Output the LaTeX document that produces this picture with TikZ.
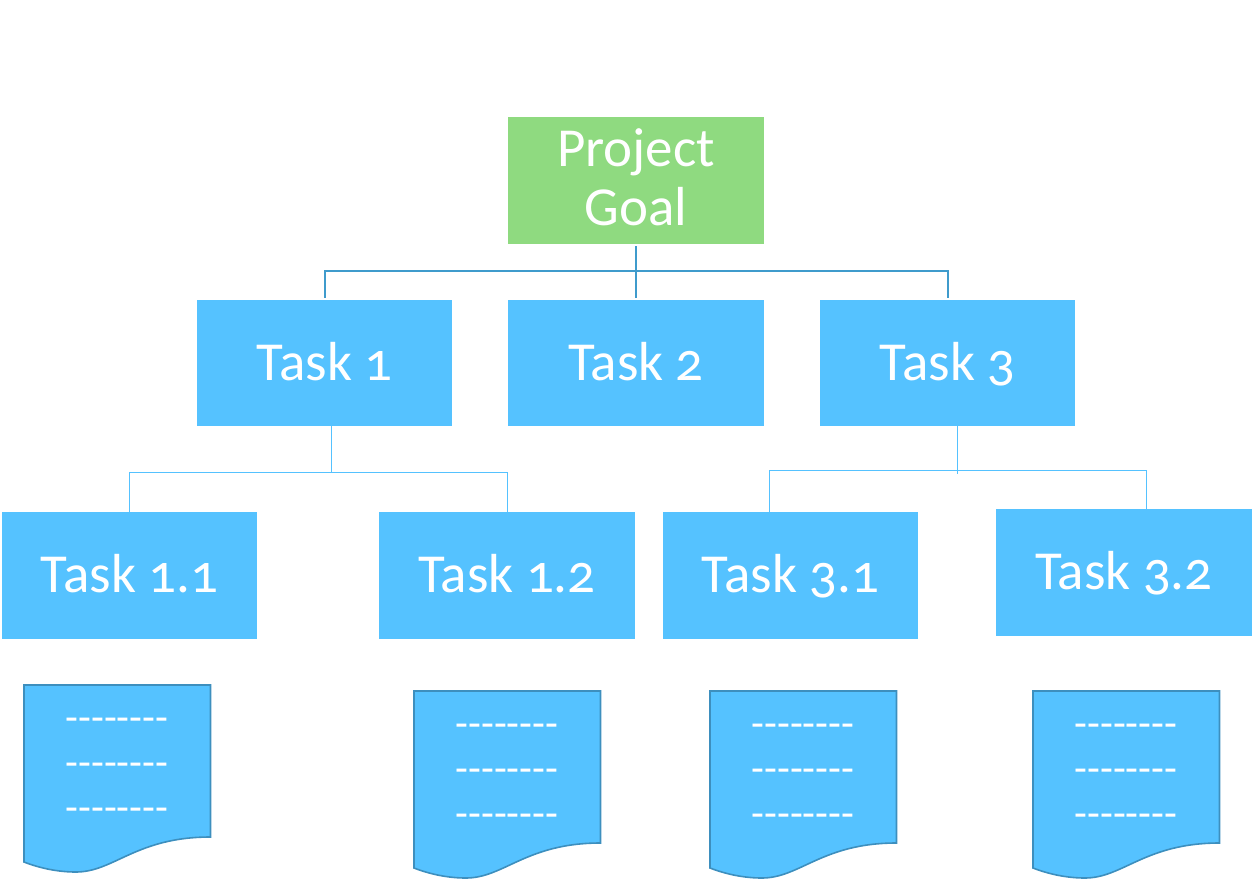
\documentclass[tikz,border=0pt]{standalone}
\usepackage{fontspec}
\setmainfont[Numbers=OldStyle]{Carlito}
\newfontfamily\dashfont{Carlito}
\usetikzlibrary{calc, positioning}

\definecolor{taskblue}{HTML}{55C2FF}
\definecolor{goalgreen}{HTML}{8FDA80}
\definecolor{linkblue}{HTML}{3F9BCC}
\definecolor{sheetedge}{HTML}{3D8FBE}

\tikzset{
    plainbox/.style={text=white, minimum width=255pt, minimum height=126pt,
                    inner sep=0pt, align=center, font=\fontsize{55}{59}\selectfont},
    % fixed height and depth keep the baselines level with and without old style digits
    taskbox/.style={plainbox, fill=taskblue, text height=40pt, text depth=6pt},
    subtaskbox/.style={taskbox, minimum height=127pt},
    goalbox/.style={plainbox, fill=goalgreen, minimum width=256pt, minimum height=127pt, text depth=6pt},
    toplink/.style={draw=linkblue, line width=2pt},
    sublink/.style={draw=taskblue, line width=1pt},
    sheet/.style={fill=taskblue, draw=sheetedge, line width=1.6pt},
    sheetnote/.style={text=white, align=center, inner sep=0pt, font=\dashfont\fontsize{42}{45}\selectfont}
}

% note sheet with a wavy lower edge: name, left, top
\newcommand{\notesheet}[3]{
    \begin{scope}[shift={(#2,#3)}]
        \draw [sheet] (0,0) -- (186.5,0) -- (186.5,152)
            .. controls (112,152) and (90,187) .. (52,187)
            .. controls (36,187) and (18,184) .. (0,177) -- cycle;
        \node [sheetnote] (#1) at (93,85) {--------\\--------\\--------};
    \end{scope}
}

\begin{document}
\begin{tikzpicture}[x=1pt, y=-1pt]

    \useasboundingbox (0,0) rectangle (1254,879);

    % boxes, top to bottom
    \node [goalbox] (goal)   at (636,180.5) {Project\\Goal};
    \node [taskbox] (task1)  at (324.5,363) {Task 1};
    \node [taskbox, minimum width=256pt] (task2)  at (636,363) {Task 2};
    \node [taskbox] (task3)  at (947.5,363) {Task 3};
    \node [subtaskbox] (task11) at (129.5,575.5) {Task 1.1};
    \node [subtaskbox, minimum width=256pt] (task12) at (507,575.5) {Task 1.2};
    \node [subtaskbox] (task31) at (790.5,575.5) {Task 3.1};
    \node [subtaskbox, minimum width=256pt] (task32) at (1124,572.5) {Task 3.2};

    % sheets below the lowest row
    \notesheet{note11}{24}{685}
    \notesheet{note12}{414}{691}
    \notesheet{note31}{710}{691}
    \notesheet{note32}{1033}{691}

    % bends where the links meet
    \coordinate (busgoal)  at (636,271);
    \coordinate (busone)   at (331,472.5);
    \coordinate (busthree) at (957.5,470.5);
    \coordinate (drop31)   at (769.5,470.5);
    \coordinate (drop32)   at (1146.5,470.5);

    \draw [toplink, shorten <=2pt, shorten >=2pt] (goal.south) -- (busgoal) -| (task1.north);
    \draw [toplink, shorten >=2pt] (busgoal) -| (task3.north);
    \draw [toplink, line width=1.2pt, shorten >=2pt] (busgoal) -- (task2.north);

    \draw [sublink] (busone |- task1.south) -- (busone);
    \draw [sublink] (busone) -| (task11.north);
    \draw [sublink] (busone) -| (task12.north);

    \draw [sublink] (busthree |- task3.south) -- ($(busthree)+(0,3)$);
    \draw [sublink] (drop31 |- task31.north) -- (drop31) -- (drop32) -- (drop32 |- task32.north);

\end{tikzpicture}
\end{document}
